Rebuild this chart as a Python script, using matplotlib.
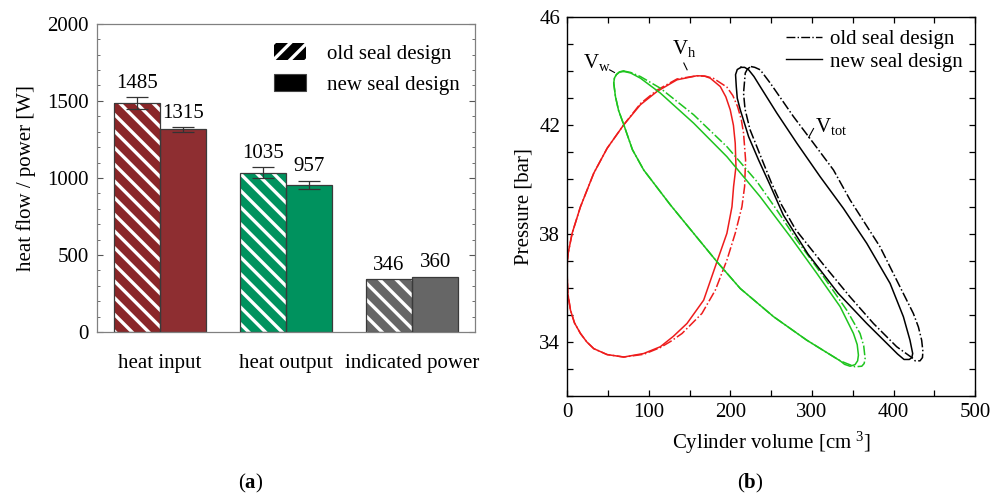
import matplotlib
matplotlib.use("Agg")
import matplotlib.pyplot as plt
from matplotlib.patches import Patch
from matplotlib.lines import Line2D
from matplotlib.ticker import MultipleLocator

plt.rcParams['font.family'] = ['Liberation Serif', 'DejaVu Serif']
plt.rcParams['mathtext.fontset'] = 'custom'
plt.rcParams['mathtext.rm'] = 'Liberation Serif'
plt.rcParams['mathtext.it'] = 'Liberation Serif:italic'
plt.rcParams['mathtext.bf'] = 'Liberation Serif:bold'
plt.rcParams['hatch.linewidth'] = 2.4

# ---------------- data (a) ----------------
categories = ['heat input', 'heat output', 'indicated power']
old_values = [1485, 1035, 346]
new_values = [1315, 957, 360]
old_err = [40, 35, 0]
new_err = [14, 26, 0]
bar_colors_old = ['#8a2628', '#00925e', '#666666']
bar_colors_new = ['#8e2e31', '#00925e', '#666666']

# ---------------- data (b) ----------------
# V_h (red) loops: (volume cm^3, pressure bar)
vh_new_x = [0, 0.2, 1.2, 6.1, 16.3, 32.6, 49.0, 69.4, 89.8, 110.2, 134.6, 159.1, 168.0, 175.4,
            187.7, 194.5, 199.9, 203.8, 206.0, 206.9, 204.0, 202.0, 195.8, 183.6, 167.3, 146.9,
            130.0, 114.2, 93.8, 69.4, 49.0, 32.6, 24.0, 16.3, 9.0, 4.1, 0.8, 0]
vh_new_y = [36.53, 36.95, 37.27, 38.01, 38.99, 40.23, 41.15, 42.02, 42.76, 43.25, 43.68, 43.83,
            43.82, 43.74, 43.43, 43.05, 42.57, 42.00, 41.34, 40.47, 39.74, 38.99, 38.01, 36.96,
            35.54, 34.68, 34.20, 33.82, 33.57, 33.44, 33.53, 33.75, 34.00, 34.31, 34.70, 35.17,
            35.79, 36.53]
vh_old_x = [0, 0.2, 1.2, 6.1, 16.3, 32.6, 49.0, 69.4, 89.8, 110.2, 134.6, 159.1, 170.0, 179.5,
            195.8, 203.0, 208.9, 213.5, 216.2, 218.7, 217.5, 214.2, 206.0, 195.8, 181.6, 165.2,
            140.8, 127.0, 114.2, 93.8, 69.4, 49.0, 32.6, 24.0, 16.3, 9.0, 4.1, 0.8, 0]
vh_old_y = [36.45, 36.95, 37.27, 38.01, 38.99, 40.23, 41.15, 42.02, 42.80, 43.30, 43.71, 43.83,
            43.81, 43.73, 43.41, 43.10, 42.69, 42.20, 41.71, 40.72, 39.74, 38.99, 38.01, 37.02,
            35.91, 35.05, 34.31, 34.02, 33.79, 33.54, 33.44, 33.53, 33.75, 34.00, 34.31, 34.70,
            35.17, 35.79, 36.45]

# V_w (green) loops
vw_new_x = [69.4, 78.0, 89.8, 114.2, 155.0, 195.8, 236.6, 273.4, 306.0, 334.6, 350.9, 355.5,
            357.0, 356.0, 352.9, 346.8, 340.0, 334.6, 293.8, 253.0, 212.2, 183.6, 155.0, 126.5,
            93.8, 80.0, 69.4, 63.0, 59.2, 57.1, 58.0, 60.4, 64.0, 69.4]
vw_new_y = [43.99, 43.93, 43.74, 43.19, 42.08, 40.84, 39.36, 37.89, 36.53, 35.30, 34.31, 33.90,
            33.51, 33.30, 33.16, 33.10, 33.17, 33.30, 34.06, 34.93, 35.97, 36.96, 38.01, 39.06,
            40.35, 41.10, 42.02, 42.55, 43.06, 43.56, 43.75, 43.87, 43.96, 43.99]
vw_old_x = [68.5, 78.0, 89.8, 114.2, 155.0, 195.8, 232.6, 257.0, 281.5, 314.2, 342.7, 359.0,
            363.5, 365.2, 364.0, 361.1, 352.9, 342.7, 334.6, 293.8, 253.0, 212.2, 183.6, 155.0,
            126.5, 93.8, 80.0, 69.4, 63.0, 59.2, 57.1, 58.0, 60.4, 64.0, 68.5]
vw_old_y = [44.01, 43.95, 43.80, 43.37, 42.39, 41.21, 39.92, 38.87, 37.76, 36.41, 35.17, 34.31,
            33.85, 33.38, 33.20, 33.10, 33.08, 33.20, 33.30, 34.06, 34.93, 35.97, 36.96, 38.01,
            39.06, 40.35, 41.10, 42.02, 42.55, 43.06, 43.56, 43.75, 43.88, 43.97, 44.01]

# V_tot (black) loops
vt_new_x = [213.0, 217.5, 222.4, 229.0, 236.6, 257.0, 281.5, 310.1, 338.6, 367.2, 395.8, 412.1,
            420.2, 423.5, 422.5, 419.4, 412.9, 405.0, 396.0, 367.2, 332.0, 295.0, 265.0,
            248.9, 234.6, 222.4, 212.2, 208.5, 207.3, 206.4, 208.5, 213.0]
vt_new_y = [44.14, 44.14, 44.05, 43.80, 43.43, 42.45, 41.34, 40.10, 38.93, 37.64, 36.16, 34.93,
            34.06, 33.57, 33.42, 33.35, 33.35, 33.55, 33.82, 34.68, 35.80, 37.25, 38.68,
            39.78, 40.72, 41.58, 42.57, 43.00, 43.43, 43.87, 44.06, 44.14]
vt_old_x = [225.2, 230.0, 236.6, 248.9, 277.4, 301.9, 326.4, 346.8, 383.5, 408.0, 424.3, 430.5,
            434.5, 436.0, 435.5, 432.5, 426.4, 424.3, 403.9, 375.4, 346.8, 314.2, 280.0, 262.0,
            250.0, 236.6, 224.0, 218.0, 216.2, 218.3, 221.0, 225.2]
vt_old_y = [44.17, 44.14, 44.05, 43.56, 42.32, 41.34, 40.35, 39.24, 37.51, 36.03, 35.05, 34.55,
            34.06, 33.65, 33.42, 33.30, 33.30, 33.38, 33.82, 34.68, 35.66, 36.85, 38.15, 39.10,
            39.90, 40.90, 41.85, 42.60, 43.19, 43.93, 44.08, 44.17]

fig = plt.figure(figsize=(9.95, 4.97), dpi=100)

# ================= (a) =================
ax1 = fig.add_axes([0.0975, 0.332, 0.380, 0.620])
w = 0.365
xs = list(range(len(categories)))
for i in xs:
    # old: hatched
    ax1.bar(i - w / 2, old_values[i], width=w, color=bar_colors_old[i], edgecolor='white',
            hatch='\\\\', linewidth=0, zorder=2)
    ax1.bar(i - w / 2, old_values[i], width=w, fill=False, edgecolor='#3a3a3a',
            linewidth=0.9, zorder=3)
    # new: plain
    ax1.bar(i + w / 2, new_values[i], width=w, color=bar_colors_new[i], edgecolor='#3a3a3a',
            linewidth=0.9, zorder=2)
    if old_err[i] > 0:
        ax1.errorbar(i - w / 2, old_values[i], yerr=old_err[i], fmt='none', ecolor='#333333',
                     elinewidth=0.9, capsize=8, capthick=0.9, zorder=4)
    if new_err[i] > 0:
        ax1.errorbar(i + w / 2, new_values[i], yerr=new_err[i], fmt='none', ecolor='#333333',
                     elinewidth=0.9, capsize=8, capthick=0.9, zorder=4)
    ax1.annotate(str(old_values[i]), (i - w / 2, old_values[i] + old_err[i]),
                 xytext=(0, 3), textcoords='offset points', ha='center', va='bottom', fontsize=15)
    ax1.annotate(str(new_values[i]), (i + w / 2, new_values[i] + new_err[i]),
                 xytext=(0, 3), textcoords='offset points', ha='center', va='bottom', fontsize=15)

ax1.set_xlim(-0.5, 2.5)
ax1.set_ylim(0, 2000)
ax1.set_xticks(xs)
ax1.set_xticklabels(categories, fontsize=15)
ax1.tick_params(axis='x', length=0, pad=16)
ax1.yaxis.set_major_locator(MultipleLocator(500))
ax1.yaxis.set_minor_locator(MultipleLocator(100))
ax1.tick_params(axis='y', which='major', direction='in', length=4, labelsize=15, pad=6,
                left=True, right=True, color='#555555')
ax1.tick_params(axis='y', which='minor', direction='in', length=2.5, left=True, right=True,
                color='#555555')
for s in ax1.spines.values():
    s.set_color('#808080')
    s.set_linewidth(0.9)
ax1.set_ylabel('heat flow / power [W]', fontsize=15, labelpad=8)

leg1_handles = [Patch(facecolor='black', edgecolor='white', hatch='//', linewidth=0),
                Patch(facecolor='black', edgecolor='#444444', linewidth=0.8)]
leg1 = ax1.legend(leg1_handles, ['old seal design', 'new seal design'], loc='upper left',
                  bbox_to_anchor=(0.43, 0.985), frameon=False, fontsize=15, handlelength=1.55,
                  handleheight=0.85, handletextpad=1.0, labelspacing=0.5, borderpad=0.2)

# ================= (b) =================
ax2 = fig.add_axes([0.570, 0.2032, 0.410, 0.7626])
red = '#ee1c1c'
green = '#1ec41e'
kw = dict(lw=1.1, solid_joinstyle='round', dash_joinstyle='round')
ax2.plot(vh_old_x, vh_old_y, color=red, ls='-.', **kw)
ax2.plot(vh_new_x, vh_new_y, color=red, ls='-', **kw)
ax2.plot(vw_old_x, vw_old_y, color=green, ls='-.', **kw)
ax2.plot(vw_new_x, vw_new_y, color=green, ls='-', **kw)
ax2.plot(vt_old_x, vt_old_y, color='black', ls='-.', **kw)
ax2.plot(vt_new_x, vt_new_y, color='black', ls='-', **kw)

ax2.set_xlim(0, 500)
ax2.set_ylim(32, 46)
ax2.xaxis.set_major_locator(MultipleLocator(100))
ax2.xaxis.set_minor_locator(MultipleLocator(50))
ax2.set_yticks([34, 38, 42, 46])
ax2.yaxis.set_minor_locator(MultipleLocator(1))
for which in ('major', 'minor'):
    ax2.tick_params(which=which, direction='in', length=4, top=True, right=True, width=0.9)
ax2.tick_params(which='major', labelsize=15, pad=5)
for s in ax2.spines.values():
    s.set_linewidth(1.0)
ax2.set_xlabel(r'Cylinder volume [cm $^3$]', fontsize=15, labelpad=6)
ax2.set_ylabel('Pressure [bar]', fontsize=15, labelpad=4)

ax2.text(20, 44.32, r'$\mathrm{V}_{\mathrm{w}}$', fontsize=15, ha='left', va='center')
ax2.plot([52, 58], [44.05, 43.95], color='black', lw=0.8)
ax2.text(128, 44.85, r'$\mathrm{V}_{\mathrm{h}}$', fontsize=15, ha='left', va='center')
ax2.plot([143, 147], [44.30, 44.05], color='black', lw=0.8)
ax2.text(304, 41.95, r'$\mathrm{V}_{\mathrm{tot}}$', fontsize=15, ha='left', va='center')
ax2.plot([302, 296], [41.88, 41.55], color='black', lw=0.8)

leg2_handles = [Line2D([], [], color='black', lw=1.0, ls='-.'),
                Line2D([], [], color='black', lw=1.0, ls='-')]
ax2.legend(leg2_handles, ['old seal design', 'new seal design'], loc='upper right',
           bbox_to_anchor=(1.0, 1.0), frameon=False, fontsize=15, handlelength=1.7,
           handletextpad=0.4, labelspacing=0.15, borderpad=0.1)

fig.text(0.252, 0.028, r'($\mathbf{a}$)', fontsize=15, ha='center', va='center')
fig.text(0.754, 0.028, r'($\mathbf{b}$)', fontsize=15, ha='center', va='center')

fig.savefig('out.png', dpi=100)
